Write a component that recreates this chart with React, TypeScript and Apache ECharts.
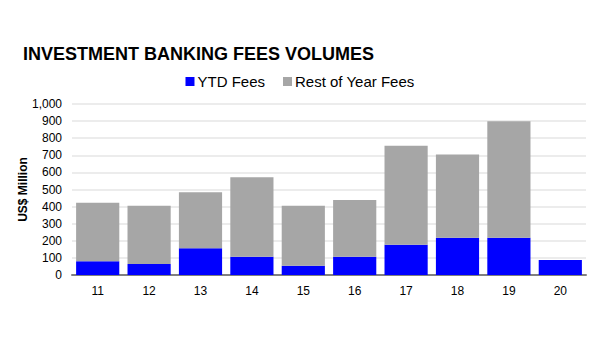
import React, { useEffect, useRef } from "react";
import * as echarts from "echarts";

const categories = ["11", "12", "13", "14", "15", "16", "17", "18", "19", "20"];
const ytdFees = [80, 64, 156, 107, 54, 107, 177, 218, 218, 88];
const restOfYearFees = [343, 341, 328, 464, 351, 332, 579, 486, 681, 0];
const yTicks = [0, 100, 200, 300, 400, 500, 600, 700, 800, 900, 1000];

export default function App() {
  const ref = useRef<HTMLDivElement>(null);
  useEffect(() => {
    if (!ref.current) return;
    const chart = echarts.init(ref.current, undefined, { renderer: "svg" });
    const font = "Liberation Sans, Arial, sans-serif";
    chart.setOption({
      animation: false,
      backgroundColor: "#ffffff",
      title: {
        text: "INVESTMENT BANKING FEES VOLUMES",
        left: 18,
        top: 40,
        textStyle: { fontFamily: font, fontWeight: "bold", fontSize: 18, color: "#000" },
      },
      legend: {
        left: "center",
        top: 69,
        itemWidth: 9,
        itemHeight: 9,
        itemGap: 18,
        icon: "rect",
        textStyle: { fontFamily: font, fontSize: 15, color: "#000", padding: [0, 0, 0, -2] },
        data: ["YTD Fees", "Rest of Year Fees"],
      },
      grid: { left: 72, right: 14, top: 104, bottom: 85 },
      xAxis: {
        type: "category",
        data: categories,
        axisLine: { lineStyle: { color: "#808080", width: 2 } },
        axisTick: { show: false },
        axisLabel: { fontFamily: font, fontSize: 12, color: "#000", margin: 10 },
      },
      yAxis: {
        type: "value",
        min: yTicks[0],
        max: yTicks[yTicks.length - 1],
        interval: 100,
        name: "US$ Million",
        nameLocation: "middle",
        nameGap: 43,
        nameRotate: 90,
        nameMoveOverlap: false,
        nameTextStyle: { fontFamily: font, fontSize: 12, fontWeight: "bold", color: "#000" },
        axisLine: { show: false },
        axisTick: { show: false },
        axisLabel: {
          fontFamily: font,
          fontSize: 12,
          color: "#000",
          margin: 10,
          formatter: (v: number) => v.toLocaleString("en-US"),
        },
        splitLine: { lineStyle: { color: "#ECECEC", width: 2 } },
      },
      series: [
        {
          name: "YTD Fees",
          type: "bar",
          stack: "fees",
          data: ytdFees,
          barCategoryGap: "16%",
          itemStyle: { color: "#0000FF" },
        },
        {
          name: "Rest of Year Fees",
          type: "bar",
          stack: "fees",
          data: restOfYearFees,
          itemStyle: { color: "#A6A6A6" },
        },
      ],
    });
    return () => chart.dispose();
  }, []);
  return (
    <div
      ref={ref}
      style={{ position: "fixed", left: 0, top: 0, width: 600, height: 360 }}
    />
  );
}
